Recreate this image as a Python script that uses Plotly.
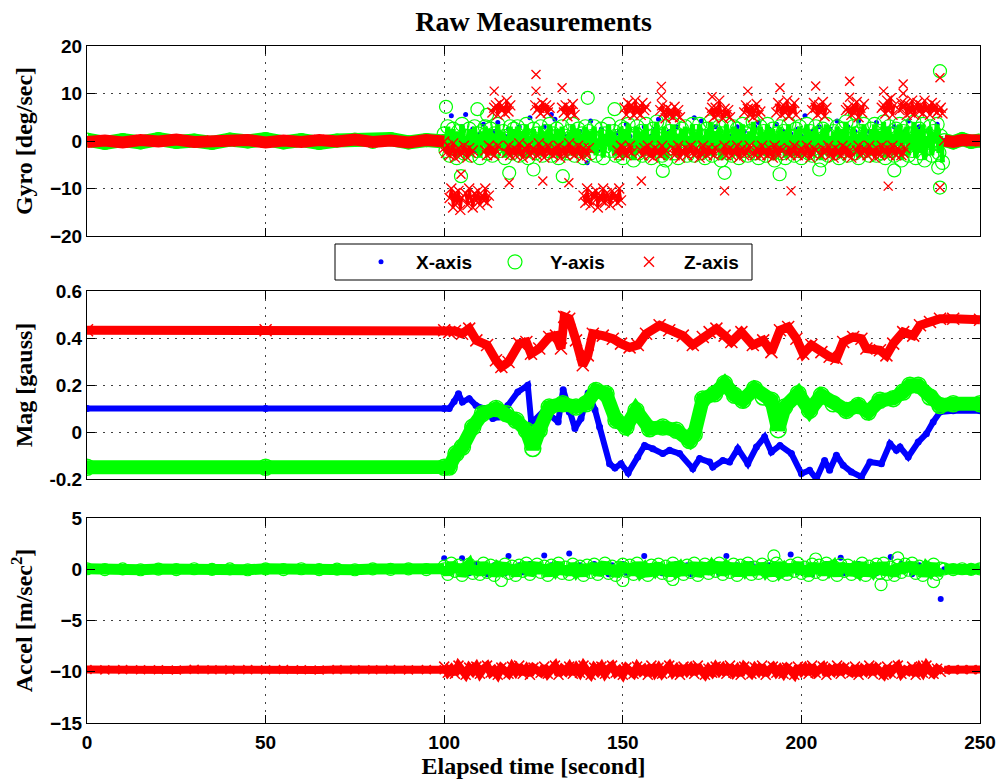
import numpy as np
import plotly.graph_objects as go

N = None
# ------------------------------------------------------------------ data
# sample times
t_rest = [0, 5, 10, 15, 20, 25, 30, 35, 40, 45, 50, 55, 60, 65, 70, 75, 80, 85, 90, 95, 100]
t_end = [240, 242.5, 245, 247.5, 250]
t_half = np.arange(100, 240, 0.5)   # motion phase, 0.5 s samples (gyro)
t_sec = np.arange(100, 240, 1.0)    # motion phase, 1 s samples

# ---- Gyro [deg/sec]
gx_rest = [0.1, -0.2, 0.2, 0.0, -0.1, 0.2, -0.2, 0.1, 0.0, -0.1, 0.2, -0.1, 0.1, -0.2, 0.0, 0.1, -0.1, 0.2, -0.2, 0.1, 0.0]
gx_end = [0.1, -0.1, 0.2, 0.0, -0.1]
gy_rest = [0.3, -0.4, 0.2, -0.3, 0.4, -0.2, 0.1, -0.4, 0.3, -0.1, 0.4, -0.3, 0.2, -0.4, 0.1, 0.3, -0.2, 0.4, -0.3, 0.2, -0.1]
gy_end = [0.2, -0.3, 0.4, -0.2, 0.1]
gz_rest = [-0.2, 0.1, -0.3, 0.2, -0.1, 0.3, -0.2, 0.1, -0.1, 0.2, -0.3, 0.1, -0.2, 0.2, -0.1, 0.3, -0.2, 0.1, -0.3, 0.2, -0.1]
gz_end = [0.1, -0.2, 0.2, -0.1, 0.1]

gx_move = [0.5, 2, 5.3, 1, -1, 3, 5.6, 0, 2.5, -2, 1.5, 3.5, -1, 0.5, 2, 3.9, -0.5, 1, 2.5, -1.5,
           1, 3, -2, 0.5, 4.9, 2, -1, 1.5, 3, 0, 5.6, 4.6, -0.5, 2, 1, -1.5, 3, 0.5, 2, -1,
           -4.6, 4.2, 1, -2, 2.5, 0, 3, -1, 1.5, 2, -0.5, 3.5, 1, -2, 2, 0.5, 3, -1, 1, 2.5,
           4.6, 0, -1.5, 2, 1, 3, -0.5, 2, 0.5, -1, 4.9, 1.5, 4.2, -0.5, 2, 1, 3, -1.5, 0.5, 2,
           1, -1, 3, 0.5, 2, -2, 1.5, 3, 3.9, 0, -1, 2.5, 1, 3.5, -0.5, 2, 0, 1.5, -1.5, 2.5,
           1, 5.3, 0, 2, -1, 3, 1.5, -0.5, 2.5, 0, 4.2, 1, -1.5, 3, 0.5, 2, 4.2, -1, 1, 2,
           0, 3.9, 1.5, -1, 2.5, 0.5, 3, -2, 1, 2, 4.2, 0, -1, 3, 1.5, -0.5, 2, 1, 3.5, 0]

gy_move = [1.5, -2, 3, -3, 0.5, 2.5, -1.5, -3.5, 2, -0.5, 3.5, -2.5, 1, -1, 2.5, -3, 0, 3, -2, 1.5,
           -3.5, 2, -1, 3, -2.5, 0.5, 2.5, -3, 1.5, -1.5, 3.5, -2, 0, 2, -3.5, 1, -0.5, 3, -2.5, 2.5,
           -1, 3, -3, 0.5, 2, -2, 3.5, -3.5, 1, -0.5, 2.5, -2.5, 1.5, -1.5, 3, -3, 0, 2, -2, 3.5,
           -3, 1.5, -1, 2.5, -3.5, 0.5, 3, -2, 1, -2.5, 2, -1.5, 3.5, -3, 0, 2.5, -2, 1.5, -3.5, 3,
           -0.5, 2, -2.5, 1, 3, -3, 0.5, -1.5, 2.5, -3.5, 1.5, -1, 3.5, -2, 0, 2, -3, 1, -2.5, 3,
           -3.5, 2.5, -1, 3.5, -2, 0.5, -4, 1.5, 3, -2.5, 2, -3, 0, 3.5, -1.5, 1, -3.5, 2.5, -0.5, 4,
           -2, 1, -3, 3, -4, 0.5, 2, -1.5, 3.5, -2.5, 1.5, -3.5, 0, 2.5, -1, 3, -3, 1, -2, 3.5,
           -3, 2, -0.5, 3.5, -2.5, 1, -3.5, 2.5, -1.5, 4, -3, 0.5, 2, -2, 3, -4, 1.5, -1, 3.5, -2.5,
           1, -3, 3, -1.5, 2.5, -3.5, 0, 3.5, -2, 1.5, -3, 2, -0.5, 4, -2.5, 1, -3.5, 3, -1, 2,
           -3, 3.5, -2, 0.5, 2.5, -4, 1.5, -1, 3, -2.5, 2, -3.5, 0, 3.5, -1.5, 1, -3, 2.5, -2, 3,
           -3.5, 1, -1, 3.5, -2.5, 2, -3, 0.5, 3, -2, 1.5, -4, 2.5, -0.5, 3.5, -3, 1, -1.5, 2, -2.5,
           3, -3.5, 0.5, 2.5, -2, 4, -3, 1, -1, 3, -2.5, 1.5, -3.5, 2, 0, 3.5, -2, 1, -3, 2.5,
           -1.5, 3.5, -3, 1, 2, -2.5, 4, -3.5, 0.5, 3, -2, 1.5, -3, 2.5, -1, 3.5, -4, 2, -0.5, 3,
           -3, 1.5, -2, 4, -3.5, 0.5, 2.5, -2.5, 3.5, -4, 1, -1.5, 3, -3, 2, -0.5, 3.5, -2.5, 1, -4.5]
gy_out_t = [100.5, 104.7, 109.3, 112, 118.2, 125, 133.2, 140.2, 147.7, 161.2, 178.5, 193.9, 205, 215, 226, 238.3, 238.8, 238.8]
gy_out_v = [7.2, -7.4, 6.7, 5.5, -6.7, -6, -7.4, 9.1, 6.7, -6.3, -6.7, -7, -6, 5.8, -6.2, -5.6, 14.7, -9.8]

gz_low = ([-1.5, -2.5, -1, -3, -2, -0.5, -3.5, -2, -1.5, -3, -2.5, -1, -2, -3.5, -1.5, -2.5, -2, N, N, N]
          + [N, N, N, -2, -3, -1, -2.5, -1.5, -3, -2, -1, N, N, N, N, -2.5, -1, -3, -2, -1.5]
          + [-3, -2, -0.5, -2.5, -3.5, -1.5, -2, -1, -3, -2.5, -1.5, -2, -3, -0.5, -2.5, -1.5, -3.5, -2, -1, -2.5]
          + [-2, -3, -1.5, -2.5, -1, -3.5, -2, -1.5, -3, -2, -0.5, -2.5, -1.5, -3, -2, -1, -2.5, -3.5, -1.5, -2]
          + [-3, -1.5] + [N] * 15 + [-2, -3, -1]
          + [-2.5, -1.5, -3, -2, -1, -2.5, N, N, N, N, -2, -3, -1.5, -2.5, -1, -3, -2, -3.5, -1.5, -2.5]
          + [-2, -3, -1, -2.5, -2, N, N, N, -1.5, -3, -2, -1, -3.5, -2, -2.5, -1.5, -3, -2, -1, -2.5]
          + [-3, -1.5, -2, -3.5, -2.5, -1, -2, -3, -1.5, -2.5, -2, -3, -1.5, N, N, N, -2.5, -1, -3, -2]
          + [-1.5, -3, -2, -2.5, -1, -3.5, -2, -1.5, -3, -2.5, -2, -1, N, -2.5, -3, -1.5, -2, -3, -1, -2.5]
          + [-2, -3, -1.5, -2.5, -3.5, -1, -2, -3, -1.5, -2, N, N, -2.5, -1.5, -3, -2, -1, -2.5, -3, -2]
          + [-1.5, -2.5, -3, -1, -2, -3.5, -2.5, -1.5, -2, N, N, -3, -1.5, -2.5, -2, -1, -3, -2, -3.5, -1.5]
          + [-2.5, -2, -3, -1, -2.5, -1.5, -3, -2, -3.5, N, N, -2, -1, -3, -2.5, -1.5, -2, -3, -1, -2.5]
          + [-2, -3.5, -1.5, -2.5, -3, -1, -2, -2.5, -1.5, -3, -2, -1, -2.5, -3, -1.5, -2, -3, -2.5, -1.5, N]
          + [N] * 20)
gz_high = ([N, N, N, -12, -10, -14, -11, -13, -10.5, -14.5, -12, N, -11, -13.5, -10, -12.5, -14, -11, -12.5, -10.5]
           + [-13.5, -11.5, -12.5, -10, -13, -11.5, N, 6, 7, 7.5, 5.5, 8, 6.5, 7, 5.8, 8.5, 6.2, 7.5, N, N]
           + [N] * 11 + [7.5, 6.5, 7, 5.8, 8, 6.5, 7.5, 6, 7]
           + [N] * 6 + [7, 6, 7.5, 5.2, 7, 6, 7.8, 5.5] + [N] * 4 + [-11.5, -13]
           + [-10, -12.5, -13.5, -11, -12, -10.5, -14, -11.5, -12.5, -10, -13, -11, -12, -13.5, -10.5, -12, -11.5, -13, -10, -12.5]
           + [N, 7, 5.5, 8, 6.5, 7.5, 5.5, 8.5, 6, 7, 5.5, 8, 6.5, 7.2] + [N] * 6
           + [N, 6.5, 7.5, 6, 4.8, 7, 5.5, 6.5, 5, 7.2, 5.5, 6.5, 5] + [N] * 7
           + [N] * 9 + [6, 7, 5, 7, 5.5, 8.5, 6, 4.8, 6.8, 5.5, 6.5]
           + [5] + [N] * 7 + [6, 7.5, 6.8, 5.5, 7, 5, 6.5, 7.8, 5.5, 6.2] + [N, N]
           + [N] * 6 + [6, 8, 6.8, 5.5, 7.5, 6, 8.5, 5.2, 7, 6.2, 8, 5.5] + [N, N]
           + [N] * 6 + [6.5, 8, 7, 5.5, 7.5, 6, 8.2, 5.2, 7] + [N] * 5
           + [N] * 5 + [6.5, 7, 6.5, 5.5, 7.5, 6, 8.2, 5, 7, 6, 7.8] + [N] * 4
           + [N] * 5 + [7, 7.5, 5.8, 8.5, 6.5, 9, 5.5, 7.5] + [N, N] + [6.5, 8, 7, 7.8, 5.5]
           + [7.5, 6, 8.5, 5.5, 7, 8, 6.2, 7.5, 5.8, 8.5, 6.5, 7.2, 5.5, 8, 6.5, 7.5, 6, 6.5, 7, 5.8])
gz_out_t = [104.7, 118.2, 127.6, 134.9, 155.2, 178.5, 197.1, 224.3, 238.8, 114, 125.7, 125.7, 133,
            160.8, 160.8, 175, 185, 194, 204, 213.5, 213.5, 223, 228.5, 228.5, 238.8]
gz_out_v = [-7, -8.8, -8.4, -8.8, -8.4, -10.5, -10.5, -9.5, -9.8, 10.5, 14, 10.5, 11.2,
            11.5, 9.5, 9.3, 10.5, 11.2, 11.6, 12.6, 9.2, 10.5, 12, 10, 13.3]

# ---- Mag [gauss]
mag_x_t = [0, 50, 100, 101.4, 102.8, 104, 105.1, 107, 108.9, 111.2, 113.6, 115.4, 117.8, 120.6, 123.4,
           124.4, 128, 131.9, 133.3, 135, 136.6, 138.3, 140.3, 142.2, 143.5, 146.3, 147.8, 149.5, 151.5,
           154.2, 156.1, 158.4, 161.2, 163.1, 165.9, 169.6, 171.5, 174.3, 175.2, 178, 179.9, 182.2, 185,
           187.4, 189.7, 191.6, 194, 197.2, 200, 202.3, 204.2, 206.5, 207.9, 209.8, 211.7, 214, 216.8,
           219.2, 222.4, 224.8, 226.6, 227.6, 229.9, 232.7, 235, 236.9, 238.8, 242.5, 250]
mag_x_v = [0.1, 0.1, 0.1, 0.1, 0.13, 0.163, 0.128, 0.142, 0.113, 0.1, 0.057, 0.064, 0.113, 0.17, 0.199,
           0.037, 0.092, 0.043, 0.18, 0.085, 0.015, 0.057, 0.166, 0.095, 0.021, -0.135, -0.153, -0.135, -0.174,
           -0.106, -0.057, -0.071, -0.092, -0.078, -0.092, -0.156, -0.113, -0.128, -0.149, -0.121, -0.128, -0.071, -0.135,
           -0.064, -0.021, -0.085, -0.057, -0.092, -0.177, -0.163, -0.199, -0.121, -0.163, -0.099, -0.142, -0.17, -0.191,
           -0.128, -0.135, -0.05, -0.078, -0.064, -0.106, -0.043, -0.007, 0.043, 0.085, 0.09, 0.09]
mag_y_t = [0, 50, 100, 101.4, 103.3, 105.1, 108, 110.7, 114.5, 117.3, 120.1, 123, 124.8, 126.6, 129.4,
           133.2, 136.9, 139.7, 142.5, 145.3, 148.1, 150.9, 153.7, 157.5, 161.2, 165, 168.7, 170, 172.4,
           175.7, 178.5, 181.3, 183.6, 186.9, 189.3, 191.6, 193.5, 195.3, 199.1, 202.3, 205.6, 208.9, 212.6,
           215.9, 218.7, 222, 225.7, 228.5, 230.4, 232.7, 236, 238.8, 242.5, 250]
mag_y_v = [-0.15, -0.15, -0.15, -0.149, -0.092, -0.064, 0.021, 0.078, 0.1, 0.078, 0.05, 0.007, -0.07, 0.007, 0.106,
           0.12, 0.106, 0.12, 0.177, 0.163, 0.05, 0.021, 0.092, 0.014, 0.021, 0.007, -0.036, -0.01, 0.14,
           0.163, 0.206, 0.156, 0.135, 0.184, 0.149, 0.135, 0.01, 0.106, 0.163, 0.092, 0.156, 0.12, 0.092,
           0.113, 0.085, 0.135, 0.142, 0.17, 0.199, 0.199, 0.149, 0.113, 0.12, 0.12]
mag_z_t = [0, 50, 100, 101.4, 103, 105, 107, 109, 112, 114.5, 116, 118, 121, 123, 124.3, 126.6, 129.4,
           131.3, 132.7, 133.6, 135, 136.9, 138.8, 140.2, 141.6, 144.4, 147.2, 149.5, 151.9, 154.2, 156.5,
           160.3, 163, 166.8, 169.6, 172.4, 174.3, 176.2, 178.5, 180.4, 183.2, 186.4, 189.3, 191.6, 194,
           196.3, 198.6, 200.5, 202.8, 205.6, 207.9, 209.8, 211.7, 214.5, 216.8, 218.2, 222, 223.8, 225.7,
           228.5, 231.3, 233.2, 236, 238.8, 242.5, 250]
mag_z_v = [0.433, 0.433, 0.433, 0.425, 0.43, 0.418, 0.44, 0.39, 0.37, 0.305, 0.277, 0.298, 0.376, 0.383, 0.333, 0.355, 0.404,
           0.41, 0.355, 0.49, 0.482, 0.39, 0.284, 0.326, 0.418, 0.41, 0.397, 0.376, 0.36, 0.37, 0.418,
           0.454, 0.433, 0.41, 0.37, 0.404, 0.425, 0.44, 0.41, 0.383, 0.425, 0.37, 0.39, 0.34, 0.433,
           0.447, 0.397, 0.333, 0.37, 0.34, 0.32, 0.312, 0.383, 0.404, 0.397, 0.355, 0.348, 0.326, 0.376,
           0.425, 0.41, 0.454, 0.468, 0.482, 0.482, 0.478]

# ---- Accel [m/sec^2]
ax_rest = [0.02, -0.01, 0.01, -0.02, 0.0, 0.01, -0.01, 0.02, -0.02, 0.01, 0.0, -0.01, 0.02, -0.01, 0.01, 0.0, -0.02, 0.01, -0.01, 0.02, 0.0]
ax_end = [0.01, -0.01, 0.02, 0.0, -0.02]
ay_rest = [0.05, -0.03, 0.04, -0.05, 0.02, -0.04, 0.05, -0.02, 0.03, -0.05, 0.04, -0.03, 0.05, -0.04, 0.02, -0.05, 0.03, -0.02, 0.04, -0.03, 0.05]
ay_end = [0.03, -0.04, 0.05, -0.02, 0.04]
az_rest = [-9.78, -9.82, -9.79, -9.81, -9.8, -9.83, -9.77, -9.8, -9.82, -9.79, -9.81, -9.78, -9.8, -9.83, -9.79, -9.81, -9.8, -9.78, -9.82, -9.79, -9.81]
az_end = [-9.8, -9.82, -9.78, -9.81, -9.79]

ax_move = [1.07, 0.2, -0.3, 0.4, -0.1, 1.07, 0.3, -0.4, 0.1, 0.5, -0.2, 0.3, -0.5, 0.2, 0.4, -0.3, 0.1, -0.4, 1.29, 0.2,
           -0.1, 0.4, -0.3, 0.2, 0.5, -0.4, 0.1, 0.3, 1.35, -0.2, 0.4, -0.5, 0.2, 0.1, -0.3, 1.54, 0.3, -0.1, 0.4, -0.4,
           0.2, -0.2, 0.5, -0.3, 0.1, 0.3, -0.5, 0.4, -0.1, 0.2, 0.5, -0.4, 0.1, 0.3, -0.2, 0.4, 1.29, -0.3, 0.2, -0.1,
           0.4, -0.4, 0.1, 0.3, -0.2, 0.5, -0.3, 0.2, 0.4, -0.5, 0.1, 0.3, -0.1, 0.4, -0.3, 0.2, 0.5, -0.4, 0.1, 1.29,
           -0.2, 0.3, 0.4, -0.4, 0.1, -0.3, 0.5, 0.2, -0.1, 0.3, -0.5, 0.4, 0.1, -0.2, 0.3, 0.2, -0.4, 1.45, 0.1, -0.3,
           0.4, -0.1, 0.2, -0.5, 0.3, 0.1, -0.3, 0.5, -0.2, 0.4, 0.1, 1.13, -0.4, 0.2, 0.3, -0.1, 0.5, -0.3, 0.2, -0.2,
           0.3, -0.4, 0.1, 0.4, -0.2, 1.2, 0.2, -0.3, 0.5, -0.1, 0.3, -0.5, 0.2, 0.4, -0.3, 0.1, -0.2, 0.3, 0.1, -2.9]
ay_move = [0.3, -0.5, 0.6, -0.2, 0.4, -0.6, 0.1, 0.5, -0.4, 0.2, -0.5, 0.6, -0.3, 0.4, -0.6, 0.2, -0.1, 0.5, -0.4, 0.3,
           -0.6, 0.4, -0.2, 0.6, -0.5, 0.1, 0.5, -0.3, 0.3, -0.6, 0.4, -0.1, 0.6, -0.4, 0.2, -0.5, 0.5, -0.2, 0.3, -0.6,
           0.4, -0.3, 0.5, -0.5, 0.1, 0.6, -0.4, 0.3, -0.6, 0.2, 0.5, -0.2, 0.4, -0.5, 0.6, -0.3, 0.1, -0.6, 0.4, -0.1,
           0.5, -0.4, 0.3, -0.6, 0.6, -0.2, 0.2, -0.5, 0.4, -0.3, 0.6, -0.6, 0.1, 0.5, -0.4, 0.3, -0.2, 0.6, -0.5, 0.2,
           -0.3, 0.5, -0.6, 0.4, -0.1, 0.6, -0.5, 0.2, -0.4, 0.5, -0.2, 0.3, -0.6, 0.6, -0.3, 0.1, -0.5, 0.4, -0.2, 0.6,
           -0.4, 0.2, -0.6, 0.5, -0.3, 0.4, -0.5, 0.6, -0.1, 0.3, -0.6, 0.5, -0.2, 0.4, -0.5, 0.1, -0.3, 0.6, -0.6, 0.3,
           -0.2, 0.5, -0.4, 0.6, -0.5, 0.2, -0.6, 0.4, -0.3, 0.5, -0.1, 0.6, -0.4, 0.3, -0.6, 0.2, -0.2, 0.5, -0.5, 0.1]
ay_out_t = [116, 150, 164, 192.3, 204, 222.3, 227, 237]
ay_out_v = [-1.1, -1.1, -1.0, 1.3, 1.0, -1.5, 1.1, -1.2]
az_move = [-9.5, -10.1, -9.7, -10.2, -9.4, -9.9, -10.3, -9.6, -10.0, -9.5, -10.2, -9.7, -9.4, -10.1, -9.8, -10.3, -9.6, -9.9, -10.2, -9.5,
           -10.0, -9.4, -10.2, -9.7, -10.3, -9.6, -9.9, -10.1, -9.5, -10.2, -9.8, -9.4, -10.3, -9.7, -10.0, -9.5, -10.2, -9.6, -10.1, -9.4,
           -9.9, -10.3, -9.6, -10.0, -9.5, -10.2, -9.7, -9.4, -10.1, -9.8, -10.3, -9.6, -9.9, -10.2, -9.5, -10.0, -9.7, -10.3, -9.4, -10.1,
           -9.6, -10.2, -9.8, -9.4, -10.1, -9.7, -10.3, -9.5, -10.0, -9.6, -10.2, -9.4, -9.9, -10.3, -9.7, -10.1, -9.5, -10.0, -9.6, -10.2,
           -9.4, -10.1, -9.7, -10.3, -9.5, -9.9, -10.2, -9.6, -10.0, -9.4, -10.3, -9.8, -9.5, -10.1, -9.7, -10.2, -9.6, -9.9, -10.3, -9.5,
           -10.0, -9.6, -10.2, -9.4, -10.1, -9.8, -9.5, -10.3, -9.7, -10.0, -9.4, -10.2, -9.6, -9.9, -10.1, -9.5, -10.3, -9.7, -10.0, -9.4,
           -10.2, -9.6, -9.9, -10.3, -9.5, -10.1, -9.7, -9.4, -10.2, -9.8, -10.0, -9.5, -10.3, -9.6, -10.1, -9.4, -9.9, -10.2, -9.7, -10.0]

# ------------------------------------------------------------------ styling
BLUE, GREEN, RED = "#0000ff", "#00ff00", "#ff0000"
SANS = "Liberation Sans, Arial, sans-serif"
SERIF = "Liberation Serif, Times New Roman, serif"

rest_t = t_rest + [None] + t_end


def cat(a, b):
    return list(a) + [None] + list(b)


fig = go.Figure()


def add(x, y, axis, mode, color, name=None, legend=False, lw=None, msym=None, msize=None, mlw=1.0):
    kw = dict(x=list(x), y=list(y), xaxis="x" + axis, yaxis="y" + axis, mode=mode,
              hoverinfo="skip", showlegend=legend, name=name, legendgroup=name,
              connectgaps=False)
    if "lines" in mode:
        kw["line"] = dict(color=color, width=lw)
    if "markers" in mode:
        if msym and ("open" in msym or "thin" in msym):
            kw["marker"] = dict(symbol=msym, size=msize, color=color,
                                line=dict(color=color, width=mlw))
        else:
            kw["marker"] = dict(symbol=msym or "circle", size=msize, color=color,
                                line=dict(width=0))
    fig.add_trace(go.Scatter(**kw))


# ---- Gyro panel (axis suffix "")
add(rest_t, cat(gx_rest, gx_end), "", "markers", BLUE, "X-axis", msym="circle", msize=5)
add(t_sec, gx_move, "", "markers", BLUE, "X-axis", legend=True, msym="circle", msize=5)
add(rest_t, cat(gy_rest, gy_end), "", "lines", GREEN, "Y-axis", lw=14)
add(rest_t, cat(gy_rest, gy_end), "", "markers", GREEN, "Y-axis", msym="circle-open", msize=13, mlw=1.2)
add(t_half, gy_move, "", "lines", GREEN, "Y-axis", lw=5)
add(t_half, gy_move, "", "markers", GREEN, "Y-axis", legend=True, msym="circle-open", msize=14, mlw=1.2)
add(gy_out_t, gy_out_v, "", "markers", GREEN, "Y-axis", msym="circle-open", msize=13, mlw=1.2)
add(rest_t, cat(gz_rest, gz_end), "", "lines", RED, "Z-axis", lw=12)
add(rest_t, cat(gz_rest, gz_end), "", "markers", RED, "Z-axis", msym="x-thin", msize=10, mlw=1.5)
add(t_half, gz_low, "", "lines", RED, "Z-axis", lw=3)
add(t_half, gz_low, "", "markers", RED, "Z-axis", legend=True, msym="x-thin", msize=10, mlw=1.4)
add(t_half, gz_high, "", "lines", RED, "Z-axis", lw=2.5)
add(t_half, gz_high, "", "markers", RED, "Z-axis", msym="x-thin", msize=10, mlw=1.4)
add(gz_out_t, gz_out_v, "", "markers", RED, "Z-axis", msym="x-thin", msize=9, mlw=1.4)

# ---- Mag panel (axis suffix "2")
add(mag_x_t, mag_x_v, "2", "lines+markers", BLUE, "magx", lw=6, msym="circle", msize=7)
add(mag_y_t, mag_y_v, "2", "lines+markers", GREEN, "magy", lw=14, msym="circle-open", msize=16, mlw=1.5)
add(mag_z_t, mag_z_v, "2", "lines+markers", RED, "magz", lw=9, msym="x-thin", msize=12, mlw=1.5)

# ---- Accel panel (axis suffix "3")
add(cat(t_rest, list(t_sec) + t_end), cat(ax_rest, ax_move + ax_end), "3", "markers", BLUE, "accx",
    msym="circle", msize=6)
add(rest_t, cat(ay_rest, ay_end), "3", "lines", GREEN, "accy", lw=11)
add(rest_t, cat(ay_rest, ay_end), "3", "markers", GREEN, "accy", msym="circle-open", msize=12, mlw=1.2)
add(t_sec, ay_move, "3", "lines", GREEN, "accy", lw=10)
add(t_sec, ay_move, "3", "markers", GREEN, "accy", msym="circle-open", msize=12, mlw=1.2)
add(ay_out_t, ay_out_v, "3", "markers", GREEN, "accy", msym="circle-open", msize=12, mlw=1.2)
add(rest_t, cat(az_rest, az_end), "3", "lines", RED, "accz", lw=8)
add(rest_t, cat(az_rest, az_end), "3", "markers", RED, "accz", msym="x-thin", msize=9, mlw=1.5)
add(t_sec, az_move, "3", "lines", RED, "accz", lw=8)
add(t_sec, az_move, "3", "markers", RED, "accz", msym="x-thin", msize=10, mlw=1.5)

# ------------------------------------------------------------------ layout
PLOT_L, PLOT_R, PLOT_T, PLOT_B = 87, 980, 46, 723
H = PLOT_B - PLOT_T
W = PLOT_R - PLOT_L


def ydom(top_px, bot_px):
    return [(PLOT_B - bot_px) / H, (PLOT_B - top_px) / H]


tickfont = dict(family=SANS, size=19, color="black", weight="bold")
titlefont = dict(family=SERIF, size=24, color="black", weight="bold")
base = dict(showline=True, linecolor="black", linewidth=1, mirror="ticks", ticks="inside",
            ticklen=8, tickcolor="black", tickwidth=1, showgrid=True, gridcolor="rgba(0,0,0,0.75)",
            griddash="2px,6px", gridwidth=1, zeroline=False, tickfont=tickfont, automargin=False)

x_ticks = [0, 50, 100, 150, 200, 250]
xcommon = dict(base, range=[0, 250], tickvals=x_ticks, domain=[0, 1])

fig.update_layout(
    width=1000, height=780,
    margin=dict(l=PLOT_L, r=1000 - PLOT_R, t=PLOT_T, b=780 - PLOT_B, autoexpand=False),
    paper_bgcolor="white", plot_bgcolor="white",
    title=dict(text="Raw Measurements", font=dict(family=SERIF, size=28, color="black", weight="bold"),
               x=(PLOT_L + PLOT_R) / 2 / 1000, xref="container", xanchor="center",
               y=1 - 21 / 780, yref="container", yanchor="middle"),
    xaxis=dict(xcommon, anchor="y", showticklabels=False),
    xaxis2=dict(xcommon, anchor="y2", showticklabels=False),
    xaxis3=dict(xcommon, anchor="y3", showticklabels=True, ticklabelstandoff=2,
                title=dict(text="Elapsed time [second]", font=titlefont, standoff=5)),
    yaxis=dict(base, anchor="x", domain=ydom(46, 236), range=[-20, 20], tickvals=[-20, -10, 0, 10, 20],
               title=dict(text="Gyro [deg/sec]", font=titlefont, standoff=10)),
    yaxis2=dict(base, anchor="x2", domain=ydom(291, 479), range=[-0.2, 0.6],
                tickvals=[-0.2, 0, 0.2, 0.4, 0.6], ticktext=["-0.2", "0", "0.2", "0.4", "0.6"],
                title=dict(text="Mag [gauss]", font=titlefont, standoff=10)),
    yaxis3=dict(base, anchor="x3", domain=ydom(518, 723), range=[-15, 5], tickvals=[-15, -10, -5, 0, 5],
                title=dict(text="Accel [m/sec<sup>2</sup>]", font=titlefont, standoff=10)),
    legend=dict(orientation="h", x=(346 - PLOT_L) / W, y=(PLOT_B - 262) / H, xanchor="left",
                yanchor="middle", font=dict(family=SANS, size=19, color="black", weight="bold"),
                bgcolor="rgba(0,0,0,0)", borderwidth=0, entrywidth=59, entrywidthmode="pixels",
                itemwidth=60, traceorder="normal", itemclick=False, itemdoubleclick=False),
    shapes=[dict(type="rect", xref="paper", yref="paper",
                 x0=(335 - PLOT_L) / W, x1=(752 - PLOT_L) / W,
                 y0=(PLOT_B - 280) / H, y1=(PLOT_B - 244) / H,
                 line=dict(color="black", width=1), fillcolor="white", layer="below")],
)

fig.write_html("out.html")
